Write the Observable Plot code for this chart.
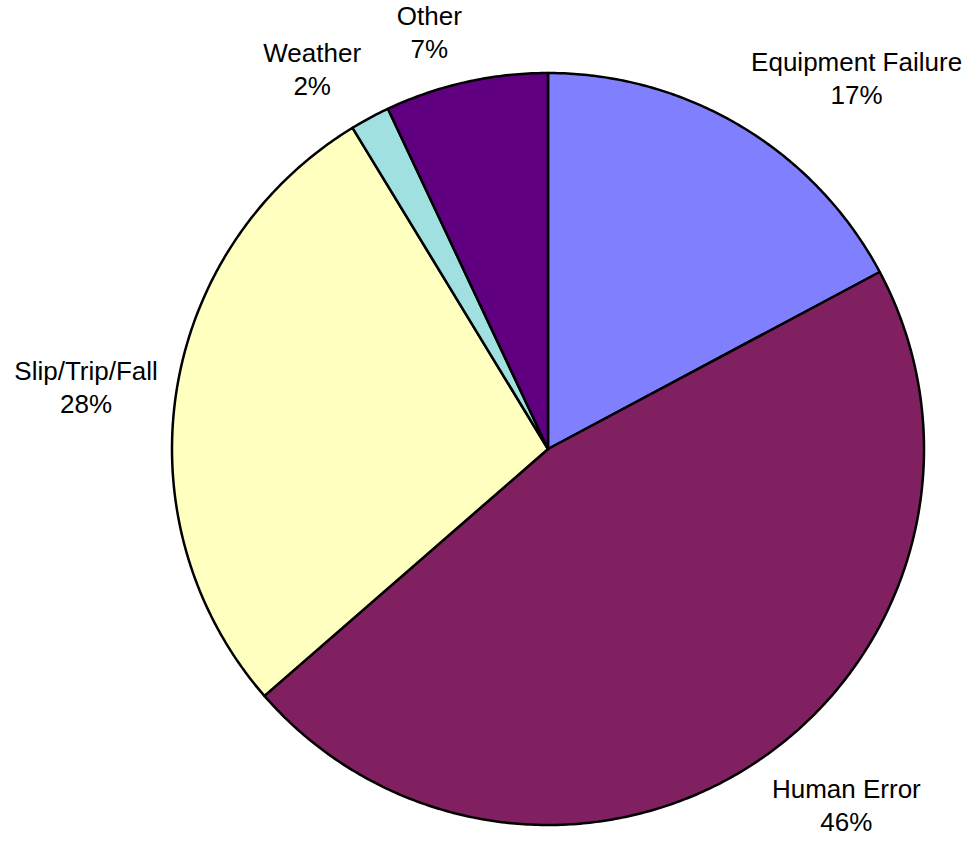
<!DOCTYPE html>
<html>
<head>
<meta charset="utf-8">
<script src="https://cdn.jsdelivr.net/npm/d3@7"></script>
<script src="https://cdn.jsdelivr.net/npm/@observablehq/plot@0.6"></script>
<style>
  html, body { margin: 0; padding: 0; background: #ffffff; }
  #chart svg { display: block; }
</style>
</head>
<body>
<div id="chart"></div>
<script>
// ---- Data ----
const categories = ["Equipment Failure", "Human Error", "Slip/Trip/Fall", "Weather", "Other"];
const values = [17.2, 46.4, 27.7, 1.7, 7.0];
const colors = ["#8080FF", "#802060", "#FFFFC0", "#A0E0E0", "#600080"];

// ---- Geometry (derived from data) ----
const total = d3.sum(values);
const FONT = "Liberation Sans, Arial, sans-serif";
const FONT_SIZE = 26;
const LINE_H = 1.27;
const R_PX = 376;            // pie radius in pixels (x/y scale: 1 unit = R_PX)
const LABEL_R = 1.05;        // label anchor radius (in pie radii)

let acc = 0;
const slices = categories.map((c, i) => {
  const a0 = acc / total * 2 * Math.PI;
  acc += values[i];
  const a1 = acc / total * 2 * Math.PI;
  return {category: c, value: values[i], a0, a1};
});

// polygon vertices for each slice (center -> arc -> center)
const slicePts = [];
for (const s of slices) {
  slicePts.push({category: s.category, x: 0, y: 0});
  const n = Math.max(2, Math.ceil((s.a1 - s.a0) / (Math.PI / 360)));
  for (let k = 0; k <= n; ++k) {
    const a = s.a0 + (s.a1 - s.a0) * k / n;
    slicePts.push({category: s.category, x: Math.sin(a), y: Math.cos(a)});
  }
  slicePts.push({category: s.category, x: 0, y: 0});
}

// label measurement
const ctx = document.createElement("canvas").getContext("2d");
ctx.font = `${FONT_SIZE}px "Liberation Sans", Arial, sans-serif`;

const labels = slices.map(s => {
  const mid = (s.a0 + s.a1) / 2;
  const ux = Math.sin(mid), uy = Math.cos(mid);
  const text = `${s.category}\n${Math.round(s.value / total * 100)}%`;
  const w = d3.max(text.split("\n"), t => ctx.measureText(t).width);
  const px = LABEL_R * ux, py = LABEL_R * uy;
  const x = px + Math.sign(ux) * (w / 2) / R_PX;
  const anchor = uy > 0.5 ? "bottom" : uy < -0.5 ? "top" : "middle";
  return {text, x, y: py, anchor};
});

const textOpts = {
  x: "x", y: "y", text: "text",
  textAnchor: "middle",
  fontSize: FONT_SIZE,
  fontFamily: FONT,
  lineHeight: LINE_H,
  fill: "#000000"
};

const chart = Plot.plot({
  width: 973,
  height: 842,
  margin: 0,
  style: {fontFamily: FONT, background: "#ffffff"},
  x: {domain: [-1, 1], range: [171.5, 923.5], axis: null},
  y: {domain: [-1, 1], range: [824.5, 72.5], axis: null},
  color: {domain: categories, range: colors},
  marks: [
    Plot.line(slicePts, {
      x: "x", y: "y", z: "category",
      fill: "category",
      stroke: "#000000",
      strokeWidth: 2.5,
      strokeLinejoin: "round"
    }),
    Plot.text(labels.filter(d => d.anchor === "bottom"), {...textOpts, lineAnchor: "bottom", dy: -6}),
    Plot.text(labels.filter(d => d.anchor === "top"), {...textOpts, lineAnchor: "top"}),
    Plot.text(labels.filter(d => d.anchor === "middle"), {...textOpts, lineAnchor: "middle", dy: -3})
  ]
});

document.getElementById("chart").appendChild(chart);
</script>
</body>
</html>
